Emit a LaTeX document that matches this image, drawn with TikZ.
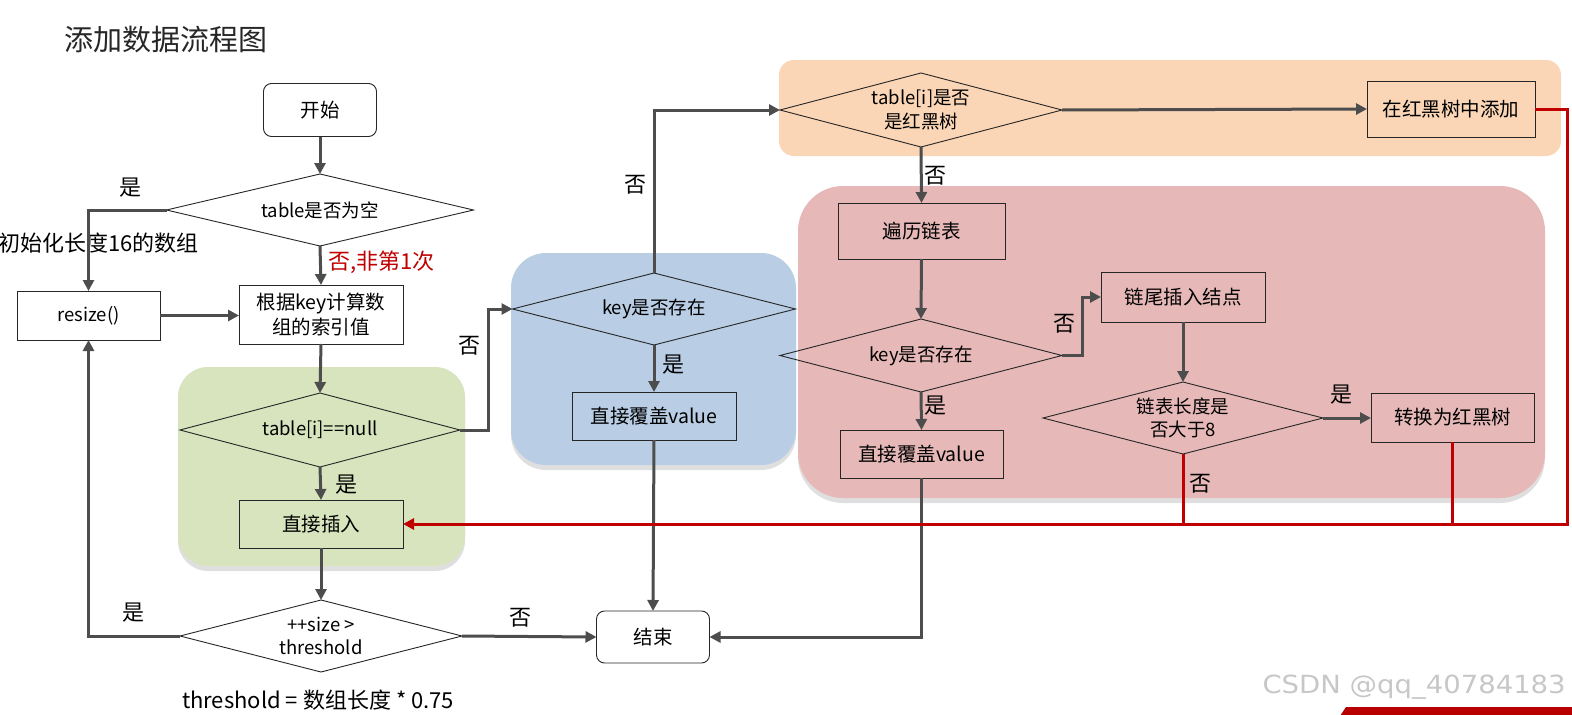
\documentclass[tikz,border=0pt]{standalone}
\usepackage{fontspec}
\setmainfont{Noto Sans CJK SC}
\newfontfamily\wmfont{DejaVu Sans}
\usetikzlibrary{arrows.meta,shadows,calc}
\newcommand\fsz[2]{\fontsize{#1}{#2}\selectfont}
\definecolor{lineg}{HTML}{4D4D4D}
\definecolor{redl}{HTML}{C00000}
\definecolor{bggreen}{HTML}{D7E4BD}
\definecolor{bgblue}{HTML}{B9CDE5}
\definecolor{bgorange}{HTML}{FAD6B6}
\definecolor{bgpink}{HTML}{E6B9B8}
\begin{document}
\begin{tikzpicture}[x=1pt,y=-1pt,
  box/.style={draw=black!85,line width=0.9pt,inner sep=0pt,outer sep=0pt,align=center,font=\fsz{19.5}{25}},
  rbox/.style={box,rounded corners=8pt},
  dtext/.style={inner sep=0pt,outer sep=0pt,align=center,font=\fsz{18.5}{23.5}},
  dborder/.style={draw=black!85,line width=0.9pt},
  arr/.style={draw=lineg,line width=3pt,-{Triangle[length=11pt,width=11pt]}},
  redline/.style={draw=redl,line width=3pt},
  redarr/.style={redline,-{Triangle[length=11pt,width=11pt]}},
  lab/.style={inner sep=0pt,font=\fsz{22}{25}},
  bgshadow/.style={drop shadow={opacity=0.25,shadow xshift=0pt,shadow yshift=-5pt}}
]
\useasboundingbox (0,0) rectangle (1572,715);

% backgrounds
\fill[bggreen,rounded corners=30pt,bgshadow] (178,367) rectangle (465,566);
\fill[bgblue,rounded corners=35pt,bgshadow] (511,253) rectangle (796,465);
\fill[bgorange,rounded corners=15pt] (779,60) rectangle (1561,156);
\fill[bgpink,rounded corners=45pt,bgshadow] (798,186) rectangle (1545,498);

% title
\node[anchor=west,inner sep=0pt,font=\fsz{29}{32},text=black!85] (title) at (64,40) {添加数据流程图};

% nodes
\node[rbox,minimum width=113pt,minimum height=53pt] (start) at (320,110) {开始};
\node[dtext,minimum width=307pt,minimum height=72pt] (dempty) at (320,210) {table是否为空};
\node[box,minimum width=164pt,minimum height=59pt] (calc) at (321,314.5) {根据key计算数\\组的索引值};
\node[box,minimum width=143pt,minimum height=49pt,font=\fsz{18.5}{23}] (resize) at (88.5,315.5) {resize()};
\node[dtext,minimum width=280pt,minimum height=74pt] (dnull) at (320,430) {table[i]==null};
\node[box,minimum width=164pt,minimum height=48pt] (insert) at (321,524) {直接插入};
\node[dtext,minimum width=282pt,minimum height=72pt] (dsize) at (321,636) {++size >\\threshold};
\node[dtext,minimum width=283pt,minimum height=72pt] (dkey1) at (654,309) {key是否存在};
\node[box,minimum width=164pt,minimum height=48pt] (cover1) at (654,416) {直接覆盖value};
\node[rbox,minimum width=113pt,minimum height=52pt] (end) at (653,637) {结束};
\node[dtext,minimum width=282pt,minimum height=74pt] (drb) at (921,110) {table[i]是否\\是红黑树};
\node[box,minimum width=168pt,minimum height=56pt] (rbadd) at (1451,109) {在红黑树中添加};
\node[box,minimum width=167pt,minimum height=56pt] (trav) at (921.5,231) {遍历链表};
\node[dtext,minimum width=282pt,minimum height=73pt] (dkey2) at (921,355.5) {key是否存在};
\node[box,minimum width=164pt,minimum height=50pt] (tail) at (1183,297) {链尾插入结点};
\node[dtext,minimum width=280pt,minimum height=72pt] (dlen) at (1183,418) {链表长度是\\否大于8};
\node[box,minimum width=163pt,minimum height=49pt] (torb) at (1452.5,417.5) {转换为红黑树};
\node[box,minimum width=163pt,minimum height=48pt] (cover2) at (921.5,454) {直接覆盖value};

% diamond borders
\foreach \d in {dempty,dnull,dsize,dkey1,drb,dkey2,dlen}
  \draw[dborder] (\d.west) -- (\d.north) -- (\d.east) -- (\d.south) -- cycle;

% labels
\node[lab] (l1) at (130,188) {是};
\node[lab,anchor=west] (l2) at (-2,243) {初始化长度16的数组};
\node[lab,anchor=west,text=redl] (l3) at (328,262) {否,非第1次};
\node[lab] (l4) at (469,346) {否};
\node[lab] (l5) at (346,485) {是};
\node[lab] (l6) at (133,613) {是};
\node[lab] (l7) at (520,618) {否};
\node[lab] (l8) at (318,700) {threshold = 数组长度 * 0.75};
\node[lab] (l9) at (635,185) {否};
\node[lab] (l10) at (673,365) {是};
\node[lab] (l11) at (935,176) {否};
\node[lab] (l12) at (1064,324) {否};
\node[lab] (l13) at (935,406) {是};
\node[lab] (l14) at (1341,395) {是};
\node[lab] (l15) at (1200,484) {否};

% connectors
\draw[arr] (start.south) -- (dempty.north);
\draw[arr] (dempty.south) -- (calc.north);
\draw[arr] (dempty.west) -| (resize.north);
\draw[arr] (resize.east) -- (calc.west |- resize.east);
\draw[arr] (calc.south) -- (dnull.north);
\draw[arr] (dnull.south) -- (insert.north);
\draw[arr] (insert.south) -- (dsize.north);
\draw[arr] (dsize.west) -| (resize.south);
\draw[arr] (dsize.east) -- (end.west);
\draw[arr] (dnull.east) -- ++(28,0) |- (dkey1.west);
\draw[arr] (dkey1.south) -- (cover1.north);
\draw[arr] (dkey1.north) |- (drb.west);
\draw[arr] (cover1.south) -- (end.north);
\draw[arr] (drb.east) -- (rbadd.west);
\draw[arr] (drb.south) -- (trav.north);
\draw[arr] (trav.south) -- (dkey2.north);
\draw[arr] (dkey2.south) -- (cover2.north);
\draw[arr] (dkey2.east) -- ++(20,0) |- (tail.west);
\draw[arr] (tail.south) -- (dlen.north);
\draw[arr] (dlen.east) -- (torb.west |- dlen.east);
\draw[arr] (cover2.south) |- (end.east);

% red connectors
\coordinate (rr) at (1567,524);
\draw[redarr] (rbadd.east) -| (rr) -- (insert.east);
\draw[redline] (dlen.south) -- (dlen.south |- rr);
\draw[redline] (torb.south) -- (torb.south |- rr);

% watermark and corner bar
\node[anchor=east,inner sep=0pt,font=\wmfont\fsz{25}{28},text=black!22,xscale=1.1] (wm) at (1566,687) {CSDN @qq\_40784183};
\fill[red!72!black] (1340,716) -- (1346,707) -- (1573,707) -- (1573,716) -- cycle;
\end{tikzpicture}
\end{document}
